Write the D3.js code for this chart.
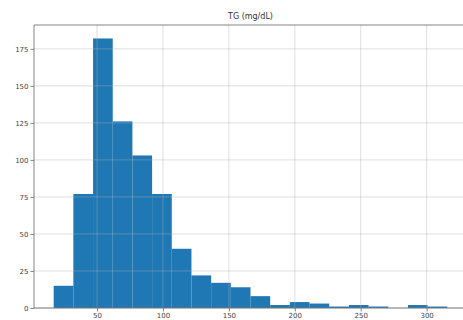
<!DOCTYPE html>
<html>
<head>
<meta charset="utf-8">
<script src="https://cdn.jsdelivr.net/npm/d3@7"></script>
<style>
  html, body { margin: 0; padding: 0; background: #fff; }
  svg { display: block; }
  text { font-family: "DejaVu Sans", sans-serif; }
</style>
</head>
<body>
<svg id="chart" width="463" height="320"></svg>
<script>
// ---- data ----
const title = "TG (mg/dL)";
const binStart = 17.1;
const binWidth = 14.93;
const counts = [15, 77, 182, 126, 103, 77, 40, 22, 17, 14, 8, 2, 4, 3, 1, 2, 1, 0, 2, 1];
const xTicks = [50, 100, 150, 200, 250, 300];
const yTicks = [0, 25, 50, 75, 100, 125, 150, 175];

// ---- layout ----
const pL = 34, pT = 25, pR = 467, pB = 308;

const bins = counts.map((c, i) => ({ x0: binStart + i * binWidth, x1: binStart + (i + 1) * binWidth, n: c }));
const dMin = bins[0].x0, dMax = bins[bins.length - 1].x1;
const pad = (dMax - dMin) * 0.05;

const x = d3.scaleLinear().domain([dMin - pad, dMax + pad]).range([pL, pR]);
const y = d3.scaleLinear().domain([0, d3.max(counts) * 1.05]).range([pB, pT]);

const svg = d3.select("#chart");

// bars
svg.append("g").selectAll("rect").data(bins).join("rect")
  .attr("x", d => x(d.x0))
  .attr("width", d => x(d.x1) - x(d.x0))
  .attr("y", d => y(d.n))
  .attr("height", d => y(0) - y(d.n))
  .attr("fill", "#1f77b4");

// grid (above bars)
const grid = svg.append("g").attr("stroke", "#b0b0b0").attr("stroke-opacity", 0.5).attr("stroke-width", 0.8);
grid.selectAll(".gx").data(xTicks).join("line")
  .attr("x1", d => x(d)).attr("x2", d => x(d)).attr("y1", pT).attr("y2", pB);
grid.selectAll(".gy").data(yTicks).join("line")
  .attr("x1", pL).attr("x2", pR).attr("y1", d => y(d)).attr("y2", d => y(d));

// axes
const xAxis = d3.axisBottom(x).tickValues(xTicks).tickSize(3.5).tickPadding(2).tickFormat(d3.format("d"));
const yAxis = d3.axisLeft(y).tickValues(yTicks).tickSize(3.5).tickPadding(2).tickFormat(d3.format("d"));

const gx = svg.append("g").attr("transform", `translate(0,${pB})`).call(xAxis);
const gy = svg.append("g").attr("transform", `translate(${pL},0)`).call(yAxis);
[gx, gy].forEach(g => {
  g.select(".domain").remove();
  g.selectAll("line").attr("stroke", "#666").attr("stroke-width", 0.8);
  g.selectAll("text").attr("fill", "#444").attr("font-size", 7);
});

// spines
const sp = svg.append("g").attr("stroke", "#666").attr("stroke-width", 0.8).attr("fill", "none");
sp.append("line").attr("x1", pL).attr("x2", pL).attr("y1", pT).attr("y2", pB);
sp.append("line").attr("x1", pL).attr("x2", pR).attr("y1", pB).attr("y2", pB);
sp.append("line").attr("x1", pL).attr("x2", pR).attr("y1", pT).attr("y2", pT);
sp.append("line").attr("x1", pR).attr("x2", pR).attr("y1", pT).attr("y2", pB);

// title
svg.append("text").attr("x", (pL + pR) / 2).attr("y", 19)
  .attr("text-anchor", "middle").attr("font-size", 8).attr("fill", "#333").text(title);
</script>
</body>
</html>
